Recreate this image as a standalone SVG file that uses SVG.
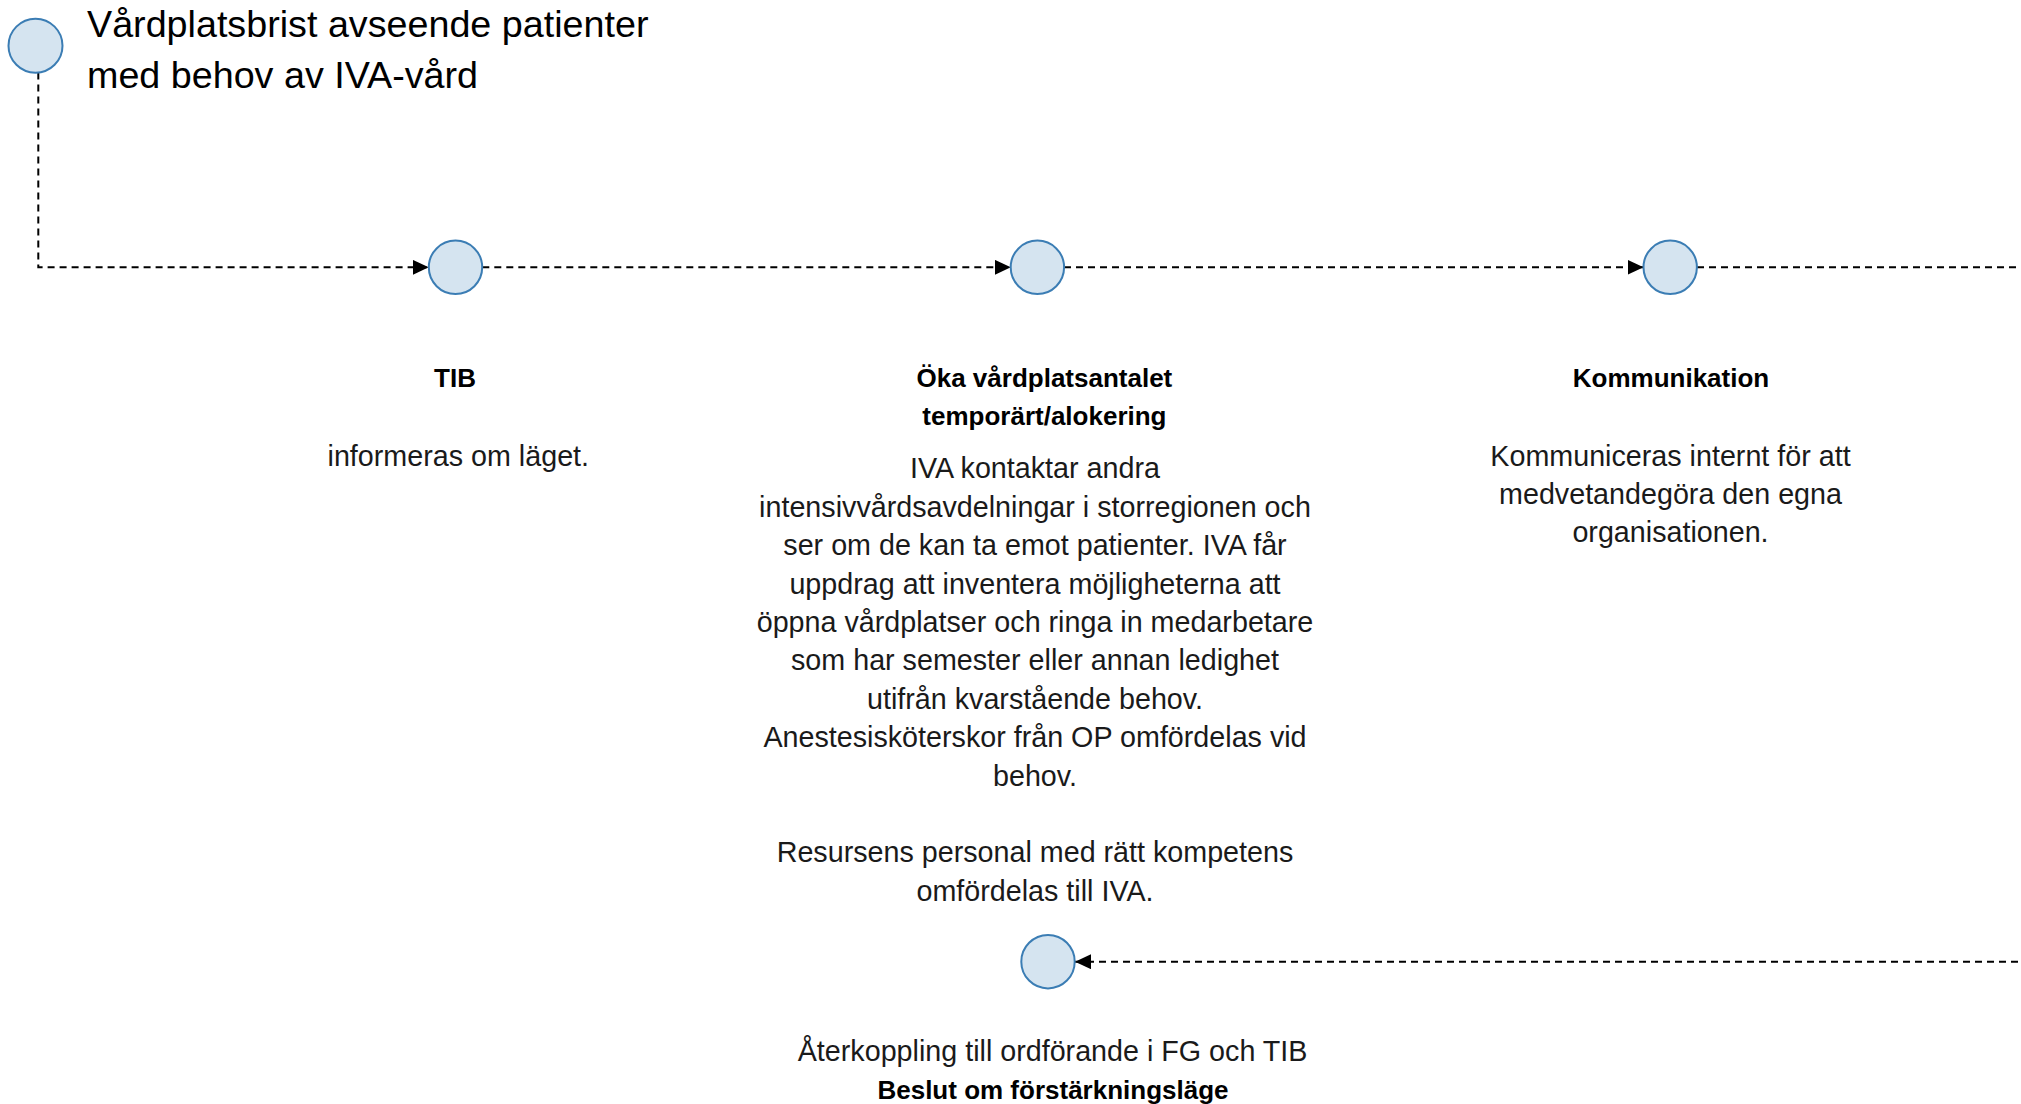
<svg xmlns="http://www.w3.org/2000/svg" width="2021" height="1104" viewBox="0 0 2021 1104">
  <style>
    .node { fill: #d5e4f0; stroke: #3b7db4; stroke-width: 2; }
    .conn { fill: none; stroke: #000; stroke-width: 2; stroke-dasharray: 7 5; }
    .title { font-family: "Liberation Sans", Arial, sans-serif; font-size: 37.7px; fill: #000; }
    .head { font-family: "Liberation Sans", Arial, sans-serif; font-size: 26px; font-weight: bold; fill: #000; text-anchor: middle; }
    .body { font-family: "Liberation Sans", Arial, sans-serif; font-size: 28.7px; fill: #1a1a1a; text-anchor: middle; }
  </style>
  <defs>
    <marker id="arrow" viewBox="0 0 16 15" refX="16" refY="7.5" markerWidth="16" markerHeight="15" markerUnits="userSpaceOnUse" orient="auto">
      <path d="M0,0 L16,7.5 L0,15 z" fill="#000"/>
    </marker>
  </defs>
  <rect width="2021" height="1104" fill="#fff"/>

  <g id="connectors">
    <path class="conn" d="M38.3,72.6 L38.3,267.3 L428.7,267.3" marker-end="url(#arrow)"/>
    <path class="conn" d="M482.3,267.3 L1010.8,267.3" marker-end="url(#arrow)"/>
    <path class="conn" d="M1064,267.3 L1643.5,267.3" marker-end="url(#arrow)"/>
    <path class="conn" d="M1697,267.3 L2030,267.3"/>
    <path class="conn" d="M2030,961.7 L1075,961.7" marker-end="url(#arrow)"/>
  </g>

  <g id="start">
    <circle class="node" cx="35.5" cy="45.7" r="27"/>
    <text class="title" x="87" y="37.3">Vårdplatsbrist avseende patienter</text>
    <text class="title" x="87" y="88">med behov av IVA-vård</text>
  </g>

  <g id="tib">
    <circle class="node" cx="455.5" cy="267.3" r="26.7"/>
    <text class="head" x="455" y="386.7">TIB</text>
    <text class="body" x="458.3" y="465.5">informeras om läget.</text>
  </g>

  <g id="oka">
    <circle class="node" cx="1037.4" cy="267.3" r="26.7"/>
    <text class="head" x="1044.4" y="386.7">Öka vårdplatsantalet</text>
    <text class="head" x="1044.4" y="425">temporärt/alokering</text>
    <text class="body" x="1035" y="478.3">IVA kontaktar andra</text>
    <text class="body" x="1035" y="516.7">intensivvårdsavdelningar i storregionen och</text>
    <text class="body" x="1035" y="555.1">ser om de kan ta emot patienter. IVA får</text>
    <text class="body" x="1035" y="593.5">uppdrag att inventera möjligheterna att</text>
    <text class="body" x="1035" y="631.9">öppna vårdplatser och ringa in medarbetare</text>
    <text class="body" x="1035" y="670.3">som har semester eller annan ledighet</text>
    <text class="body" x="1035" y="708.7">utifrån kvarstående behov.</text>
    <text class="body" x="1035" y="747.1">Anestesisköterskor från OP omfördelas vid</text>
    <text class="body" x="1035" y="785.5">behov.</text>
    <text class="body" x="1035" y="862.3">Resursens personal med rätt kompetens</text>
    <text class="body" x="1035" y="900.7">omfördelas till IVA.</text>
  </g>

  <g id="kommunikation">
    <circle class="node" cx="1670.2" cy="267.3" r="26.7"/>
    <text class="head" x="1671" y="386.7">Kommunikation</text>
    <text class="body" x="1670.5" y="465.5">Kommuniceras internt för att</text>
    <text class="body" x="1670.5" y="503.9">medvetandegöra den egna</text>
    <text class="body" x="1670.5" y="542.3">organisationen.</text>
  </g>

  <g id="aterkoppling">
    <circle class="node" cx="1048" cy="961.7" r="26.7"/>
    <text class="body" x="1052.6" y="1061">Återkoppling till ordförande i FG och TIB</text>
    <text class="head" x="1053" y="1099">Beslut om förstärkningsläge</text>
  </g>
</svg>
